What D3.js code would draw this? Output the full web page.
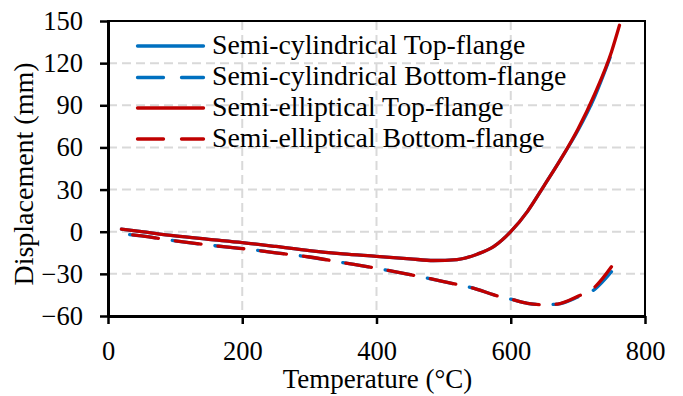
<!DOCTYPE html>
<html>
<head>
<meta charset="utf-8">
<script src="https://cdn.jsdelivr.net/npm/d3@7"></script>
<style>
  body { margin: 0; background: #fff; }
  text { font-family: "Liberation Serif", "Times New Roman", serif; fill: #000; }
</style>
</head>
<body>
<div id="vis"></div>
<script>
// temperature (°C) and displacement (mm)
const tempTop = [20, 50, 100, 150, 200, 250, 300, 350, 400, 450, 485, 520, 550, 575, 600, 625, 650, 675, 700, 725, 748];
const cylTop = [1.8, 0, -3, -5.4, -7.7, -10.5, -13.5, -15.8, -17.5, -19.3, -20.5, -19.8, -16, -10.5, 0, 14.5, 33, 52, 72, 96, 124];
const tempTopEll = [20, 50, 100, 150, 200, 250, 300, 350, 400, 450, 485, 520, 550, 575, 600, 625, 650, 675, 700, 725, 750, 762];
const ellTop = [1.8, 0, -3, -5.4, -7.7, -10.5, -13.5, -15.8, -17.5, -19.3, -20.5, -19.8, -16, -10.5, 0, 14.5, 33, 52, 73, 98, 128, 147];
const tempBot = [20, 50, 100, 150, 200, 250, 300, 350, 400, 450, 500, 550, 575, 600, 625, 650, 670, 700, 725, 750];
const cylBot = [-1.5, -3, -6.5, -9.5, -12, -15, -18, -22, -26, -30.5, -35.5, -41, -45, -48, -51, -52, -51.5, -46.5, -41, -28.5];
const ellBot = [-1.5, -3, -6.5, -9.5, -12, -15, -18, -22, -26, -30.5, -35.5, -41, -45, -48, -51, -52, -51.5, -46, -39.5, -25];

const seriesNames = [
  "Semi-cylindrical Top-flange",
  "Semi-cylindrical Bottom-flange",
  "Semi-elliptical Top-flange",
  "Semi-elliptical Bottom-flange"
];
const xTicks = [0, 200, 400, 600, 800];
const yTicks = [-60, -30, 0, 30, 60, 90, 120, 150];

const dashOn = 26, dashOff = 17;

const series = [
  { name: seriesNames[0], x: tempTop, y: cylTop, color: "#0070C0", dashed: false },
  { name: seriesNames[1], x: tempBot, y: cylBot, color: "#0070C0", dashed: true },
  { name: seriesNames[2], x: tempTopEll, y: ellTop, color: "#C00000", dashed: false },
  { name: seriesNames[3], x: tempBot, y: ellBot, color: "#C00000", dashed: true }
];

const W = 683, H = 396;
const margin = { top: 21, right: 38, bottom: 80, left: 108 };
const width = W - margin.left - margin.right;
const height = H - margin.top - margin.bottom;

const svg = d3.select("#vis").append("svg")
  .attr("width", W).attr("height", H);
const g = svg.append("g")
  .attr("transform", `translate(${margin.left},${margin.top})`);

const x = d3.scaleLinear().domain([0, 800]).range([0, width]);
const y = d3.scaleLinear().domain([-60, 150]).range([height, 0]);

// grid
g.append("g").selectAll("line")
  .data(yTicks.filter(d => d > -60 && d < 150))
  .join("line")
  .attr("x1", 0).attr("x2", width)
  .attr("y1", d => y(d)).attr("y2", d => y(d))
  .attr("stroke", "#d9d9d9").attr("stroke-width", 2).attr("stroke-dasharray", "9,5");
g.append("g").selectAll("line")
  .data(xTicks.filter(d => d > 0 && d < 800))
  .join("line")
  .attr("y1", 0).attr("y2", height)
  .attr("x1", d => x(d)).attr("x2", d => x(d))
  .attr("stroke", "#d9d9d9").attr("stroke-width", 2).attr("stroke-dasharray", "9,5");

// frame
g.append("rect")
  .attr("width", width).attr("height", height)
  .attr("fill", "none").attr("stroke", "#000").attr("stroke-width", 2);

// axes
const xAxis = g.append("g")
  .attr("transform", `translate(0,${height})`)
  .call(d3.axisBottom(x).tickValues(xTicks).tickSize(8).tickPadding(17).tickSizeOuter(0));
const yAxis = g.append("g")
  .call(d3.axisLeft(y).tickValues(yTicks).tickSize(8).tickPadding(17).tickSizeOuter(0));
[xAxis, yAxis].forEach(a => {
  a.select(".domain").attr("stroke-width", 3);
  a.selectAll(".tick line").attr("stroke-width", 2.5);
  a.selectAll(".tick text")
    .style("font-family", "'Liberation Serif', 'Times New Roman', serif")
    .style("font-size", "26.5px")
    .attr("fill", "#000");
});

// lines
const line = d3.line()
  .x(d => x(d[0]))
  .y(d => y(d[1]))
  .curve(d3.curveMonotoneX);

const paths = g.append("g").selectAll("path")
  .data(series)
  .join("path")
  .attr("d", s => line(d3.zip(s.x, s.y)))
  .attr("fill", "none")
  .attr("stroke", s => s.color)
  .attr("stroke-width", 3.3)
  .attr("stroke-linecap", "round")
  .attr("stroke-linejoin", "round");

// make dashed lines finish on a dash, like the original
paths.filter(s => s.dashed).each(function () {
  const L = this.getTotalLength();
  const period = dashOn + dashOff;
  const off = ((dashOn - (L % period)) % period + period) % period;
  d3.select(this)
    .attr("stroke-dasharray", `${dashOn},${dashOff}`)
    .attr("stroke-dashoffset", off);
});

// legend
const legend = svg.append("g");
const rowY = [46, 77.5, 108, 139];
series.forEach((s, i) => {
  legend.append("line")
    .attr("x1", 137.5).attr("x2", 203.5)
    .attr("y1", rowY[i]).attr("y2", rowY[i])
    .attr("stroke", s.color).attr("stroke-width", 3.3)
    .attr("stroke-linecap", "round")
    .attr("stroke-dasharray", s.dashed ? "26,18" : null);
  legend.append("text")
    .attr("x", 212).attr("y", rowY[i] + 7.5)
    .style("font-size", "27.8px")
    .text(s.name);
});

// axis titles
svg.append("text")
  .attr("x", 377.5).attr("y", 388)
  .attr("text-anchor", "middle")
  .style("font-size", "27px")
  .text("Temperature (°C)");
svg.append("text")
  .attr("transform", `translate(33,174) rotate(-90)`)
  .attr("text-anchor", "middle")
  .style("font-size", "28px")
  .text("Displacement (mm)");
</script>
</body>
</html>
